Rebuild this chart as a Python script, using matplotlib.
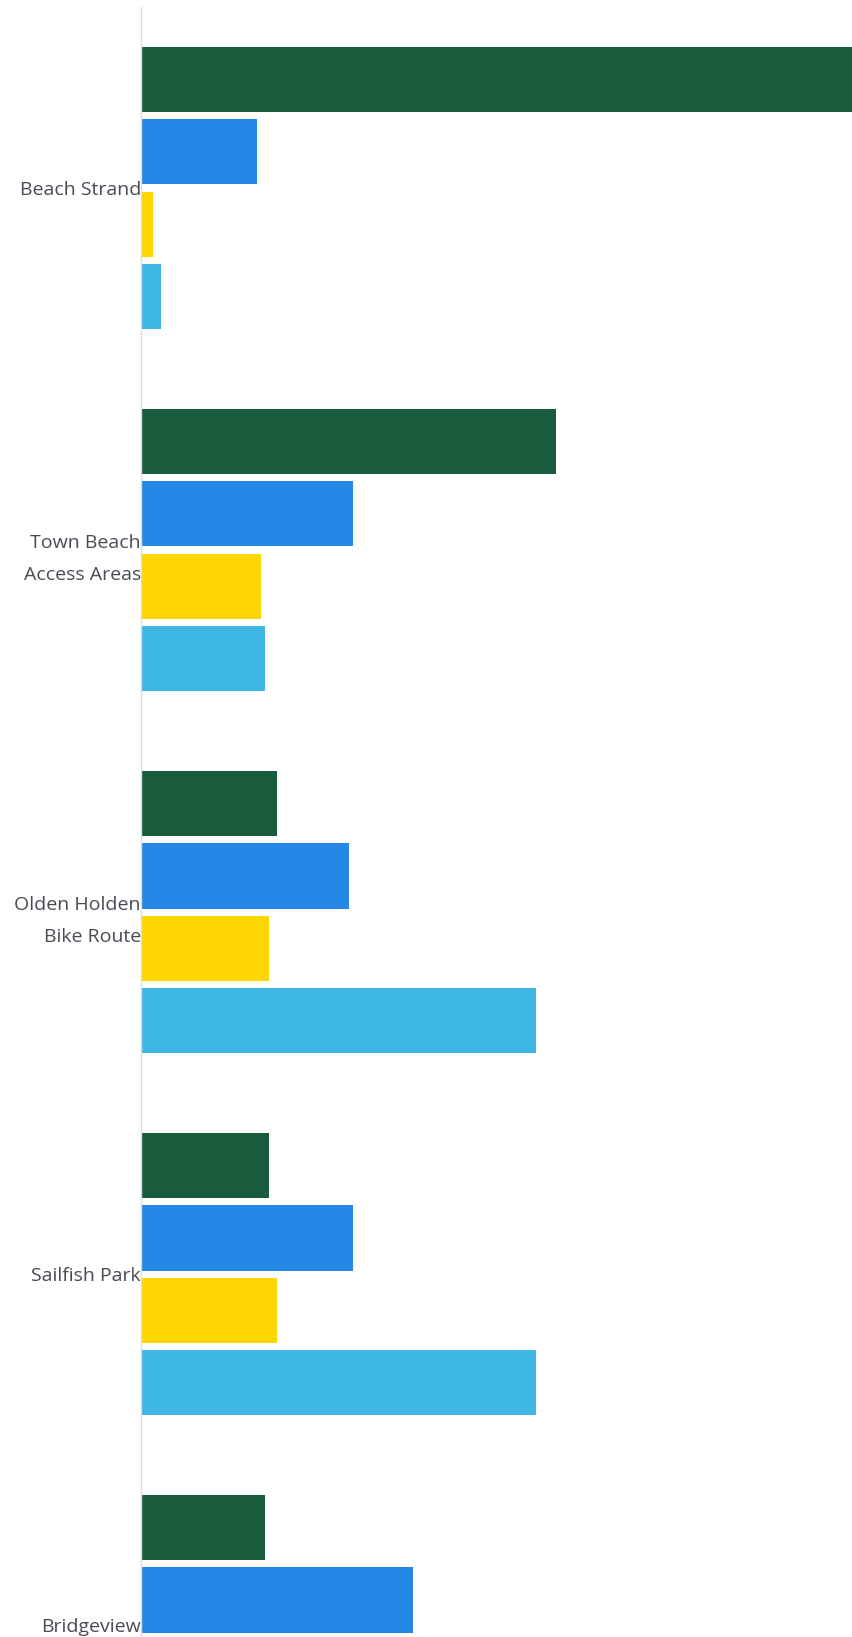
"""
Grouped horizontal bars per location (cropped view, as in the reference).
"""

import numpy as np
import matplotlib
matplotlib.use("Agg")
import matplotlib.pyplot as plt

# ─── Data ────────────────────────────────────────────────────────────────────

locations = ["Beach Strand", "Town Beach\nAccess Areas", "Olden Holden\nBike Route",
             "Sailfish Park", "Bridgeview"]

# four series per location (bottom two for Bridgeview are cut off in the view)
series_a = [200, 104, 34, 32, 31]
series_b = [29, 53, 52, 53, 68]
series_c = [3, 30, 32, 34, np.nan]
series_d = [5, 31, 99, 99, np.nan]

colors = ["#1b5b3d", "#2587e6", "#fed602", "#3fb7e5"]

# ─── Plot ────────────────────────────────────────────────────────────────────

fig = plt.figure(figsize=(8.52, 16.37), dpi=100)
ax = fig.add_axes([141 / 852, 0.0, 1 - 141 / 852, 1 - 7 / 1637])

n_series = 4
group_step = n_series + 1
base = np.arange(len(locations)) * group_step

for k, (vals, col) in enumerate(zip([series_a, series_b, series_c, series_d], colors)):
    ax.barh(base + k, vals, height=0.9, color=col, linewidth=0)

ax.set_xlim(0, 178)
ax.set_ylim(21.51, -1.0)

ax.set_yticks(base + (n_series - 1) / 2)
ax.set_yticklabels(locations, fontsize=14, color="#4a4a55", family="Open Sans",
                   linespacing=2.0)
ax.get_yticklabels()[-1].set_va("bottom")
ax.tick_params(axis="y", length=0, pad=0)
ax.tick_params(axis="x", bottom=False, labelbottom=False)

for side in ("top", "right", "bottom"):
    ax.spines[side].set_visible(False)
ax.spines["left"].set_color("#dcdcdc")
ax.spines["left"].set_linewidth(1.0)
ax.set_zorder(1)

fig.savefig("out.png", dpi=100)
plt.close(fig)
